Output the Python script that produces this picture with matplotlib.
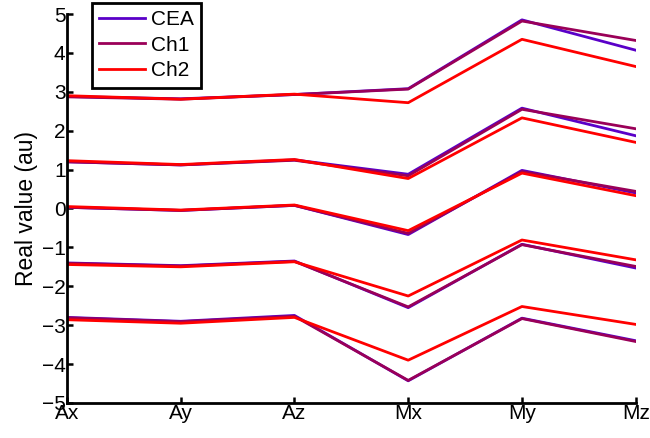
import numpy as np
import matplotlib.pyplot as plt

plt.rcParams['font.family'] = ['Liberation Sans', 'DejaVu Sans']

categories = ['Ax', 'Ay', 'Az', 'Mx', 'My', 'Mz']

# 5 curves per series, one value per category
cea = [[2.88, 2.82, 2.93, 3.08, 4.85, 4.07],
       [1.20, 1.12, 1.25, 0.88, 2.58, 1.87],
       [0.03, -0.05, 0.08, -0.67, 0.98, 0.40],
       [-1.40, -1.47, -1.35, -2.55, -0.92, -1.53],
       [-2.80, -2.90, -2.75, -4.43, -2.82, -3.40]]
ch1 = [[2.87, 2.81, 2.93, 3.07, 4.82, 4.32],
       [1.20, 1.12, 1.24, 0.84, 2.55, 2.05],
       [0.03, -0.05, 0.08, -0.64, 0.95, 0.44],
       [-1.41, -1.48, -1.36, -2.53, -0.93, -1.49],
       [-2.81, -2.91, -2.77, -4.42, -2.83, -3.42]]
ch2 = [[2.90, 2.81, 2.94, 2.72, 4.35, 3.65],
       [1.23, 1.13, 1.26, 0.77, 2.33, 1.70],
       [0.05, -0.04, 0.09, -0.57, 0.91, 0.33],
       [-1.44, -1.50, -1.37, -2.25, -0.81, -1.32],
       [-2.86, -2.95, -2.80, -3.90, -2.52, -2.98]]

series = [('CEA', cea, '#5a00c8'), ('Ch1', ch1, '#9a0058'), ('Ch2', ch2, '#ff0000')]

fig = plt.figure(figsize=(6.5, 4.38), dpi=100)
ax = fig.add_axes([0.103, 0.08, 0.875, 0.888])
x = np.arange(len(categories))

for name, data, col in series:
    for k, row in enumerate(data):
        ax.plot(x, row, color=col, lw=2.0, label=name if k == 0 else None)

ax.set_xlim(0, len(categories) - 1)
ax.set_ylim(-5, 5)
ax.set_xticks(x)
ax.set_xticklabels(categories)
ax.set_yticks(np.arange(-5, 6))
ax.tick_params(direction='in', length=4, width=1.8, labelsize=15, pad=1)
for s in ['top', 'right']:
    ax.spines[s].set_visible(False)
for s in ['left', 'bottom']:
    ax.spines[s].set_linewidth(2.0)
ax.set_ylabel('Real value (au)', fontsize=16.5, labelpad=3)

leg = ax.legend(loc='upper left', bbox_to_anchor=(0.141, 0.994), bbox_transform=fig.transFigure,
                fontsize=15, fancybox=False, framealpha=1, edgecolor='black',
                handlelength=2.2, handletextpad=0.3, borderpad=0.35, labelspacing=0.32,
                borderaxespad=0)
leg.get_frame().set_linewidth(2.0)

fig.savefig('out.png', dpi=100)
